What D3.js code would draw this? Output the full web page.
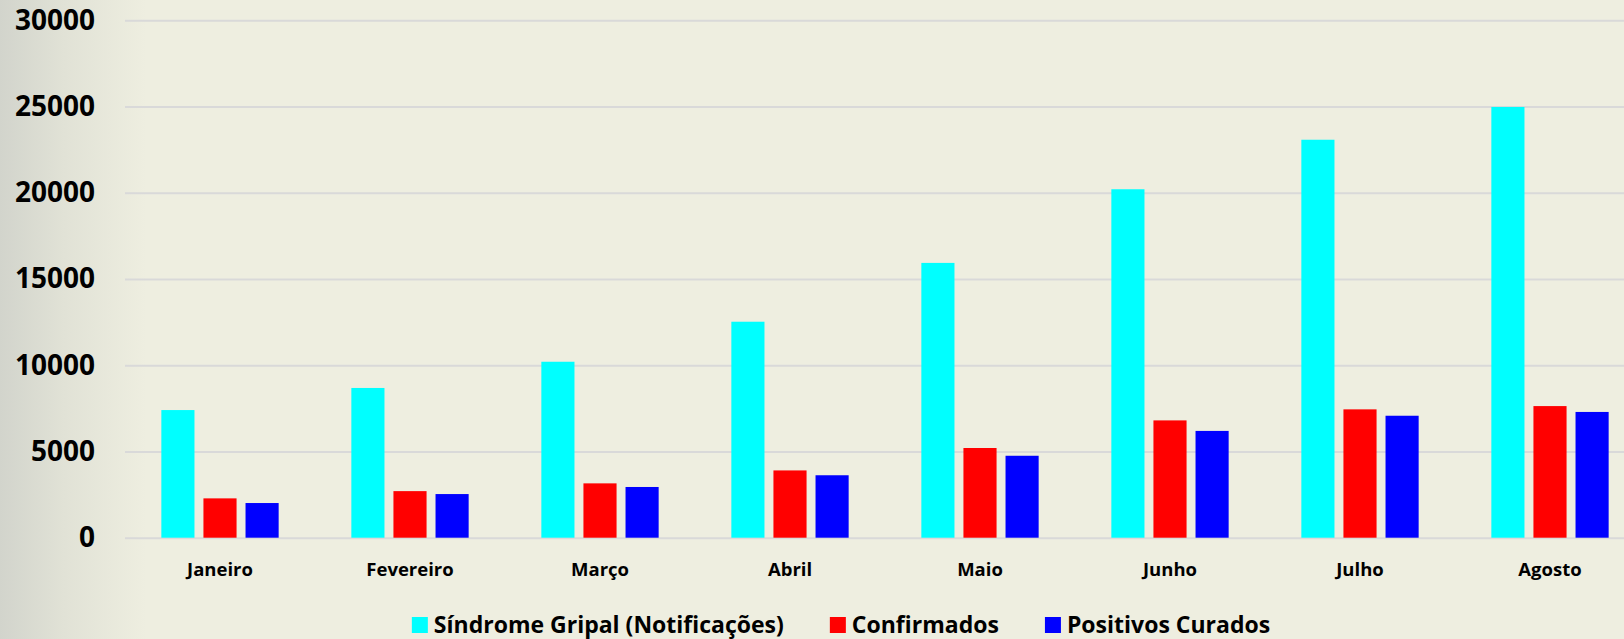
<!DOCTYPE html>
<html>
<head>
<meta charset="utf-8">
<script src="https://cdn.jsdelivr.net/npm/d3@7"></script>
<style>
  html, body { margin: 0; padding: 0; background: #eeeee0; }
  svg { display: block; }
  text { font-family: "Open Sans", sans-serif; font-weight: 700; fill: #000; }
</style>
</head>
<body>
<div class="graph-center"></div>
<script>
// data
let months = ['Janeiro', 'Fevereiro', 'Março', 'Abril', 'Maio', 'Junho', 'Julho', 'Agosto']
let seriesNames = ['Síndrome Gripal (Notificações)', 'Confirmados', 'Positivos Curados']
let seriesColors = ['#00ffff', '#ff0000', '#0000ff']
let sindromeGripal = [7400, 8680, 10200, 12520, 15930, 20200, 23070, 24970]
let confirmados = [2280, 2700, 3150, 3900, 5200, 6800, 7440, 7630]
let positivosCurados = [2010, 2530, 2940, 3620, 4750, 6190, 7070, 7290]
let yTicks = [0, 5000, 10000, 15000, 20000, 25000, 30000]

let svgWidth = 1624
let svgHeight = 639

let plot = { left: 125, right: 1645, top: 20.2, bottom: 537.7 }

let svg = d3.select('.graph-center')
    .append('svg')
    .attr('width', svgWidth)
    .attr('height', svgHeight)

// background with the greyish fade on the left
let defs = svg.append('defs')
let grad = defs.append('linearGradient')
    .attr('id', 'bg')
    .attr('x1', 0).attr('x2', 1).attr('y1', 0).attr('y2', 0)
grad.append('stop').attr('offset', '0%').attr('stop-color', '#d2d4cc')
grad.append('stop').attr('offset', '4%').attr('stop-color', '#e1e2d6')
grad.append('stop').attr('offset', '9%').attr('stop-color', '#eeeee0')
grad.append('stop').attr('offset', '100%').attr('stop-color', '#eeeee0')

svg.append('rect')
    .attr('width', svgWidth)
    .attr('height', svgHeight)
    .attr('fill', 'url(#bg)')

// scales
let yScale = d3.scaleLinear()
    .domain([0, 30000])
    .range([plot.bottom, plot.top])

let x0 = d3.scaleBand()
    .domain(months)
    .range([plot.left, plot.right])
    .paddingInner(0.3826)
    .paddingOuter(0.1913)

let x1 = d3.scaleBand()
    .domain(seriesNames)
    .range([0, x0.bandwidth()])
    .paddingInner(0.213)

// gridlines
let grid = svg.append('g')
    .attr('transform', `translate(${plot.left},0)`)
    .call(d3.axisLeft(yScale).tickValues(yTicks).tickSize(-(svgWidth - plot.left)).tickFormat(''))
grid.select('.domain').remove()
grid.selectAll('line')
    .attr('stroke', '#d9d9d9')
    .attr('stroke-width', 2)

// y axis labels
let yAxis = svg.append('g')
    .attr('transform', `translate(${plot.left},0)`)
    .call(d3.axisLeft(yScale).tickValues(yTicks).tickSize(0).tickPadding(30).tickFormat(d3.format('d')))
yAxis.select('.domain').remove()
yAxis.selectAll('text')
    .attr('font-family', null)
    .attr('fill', null)
    .style('font-size', '28px')

// bars
let rows = months.map((m, i) => ({
    month: m,
    values: [sindromeGripal[i], confirmados[i], positivosCurados[i]]
}))

let groups = svg.append('g')
    .selectAll('g')
    .data(rows)
    .join('g')
    .attr('transform', d => `translate(${x0(d.month)},0)`)

groups.selectAll('rect')
    .data(d => d.values.map((v, j) => ({ key: seriesNames[j], value: v, color: seriesColors[j] })))
    .join('rect')
    .attr('x', d => x1(d.key))
    .attr('y', d => yScale(d.value))
    .attr('width', x1.bandwidth())
    .attr('height', d => yScale(0) - yScale(d.value))
    .attr('fill', d => d.color)

// x axis labels
let xAxis = svg.append('g')
    .attr('transform', `translate(0,${plot.bottom})`)
    .call(d3.axisBottom(x0).tickSize(0).tickPadding(25))
xAxis.select('.domain').remove()
xAxis.selectAll('text')
    .attr('font-family', null)
    .attr('fill', null)
    .style('font-size', '18.5px')

// legend
let legend = svg.append('g')
let items = legend.selectAll('g')
    .data(seriesNames)
    .join('g')

items.append('rect')
    .attr('y', 617)
    .attr('width', 16)
    .attr('height', 16)
    .attr('fill', (d, i) => seriesColors[i])

items.append('text')
    .attr('x', 22)
    .attr('y', 633)
    .style('font-size', '23px')
    .text(d => d)

let xPos = 0
items.each(function () {
    let w = d3.select(this).select('text').node().getComputedTextLength()
    d3.select(this).attr('transform', `translate(${xPos},0)`)
    xPos += 22 + w + 46
})
let legendWidth = xPos - 46
legend.attr('transform', `translate(${841 - legendWidth / 2},0)`)
</script>
</body>
</html>
